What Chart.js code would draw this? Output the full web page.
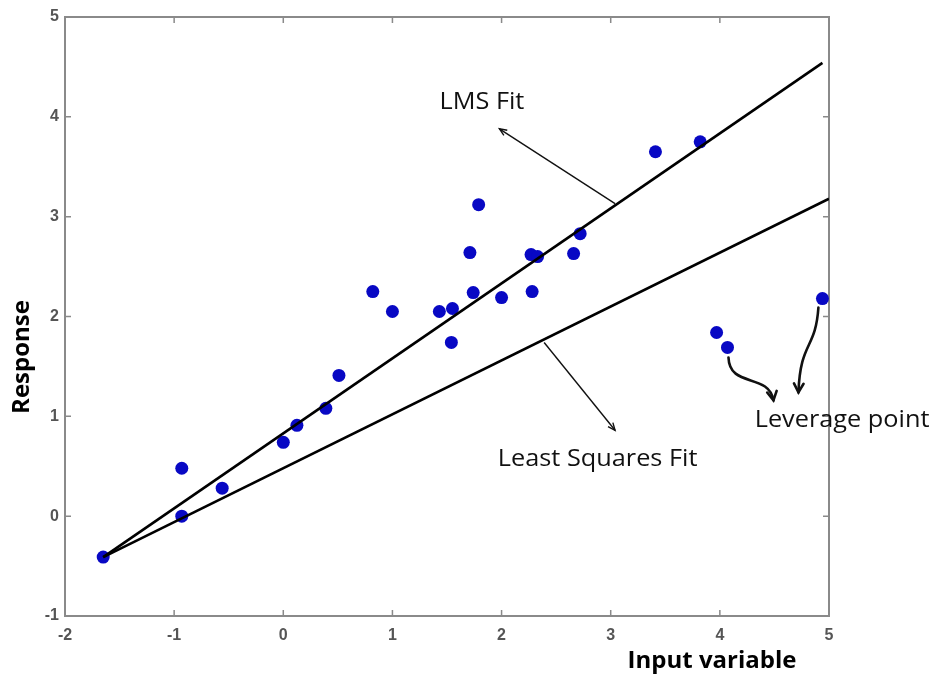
<!DOCTYPE html>
<html>
<head>
<meta charset="utf-8">
<script src="https://cdn.jsdelivr.net/npm/chart.js@4.4.1/dist/chart.umd.min.js"></script>
<style>
  html, body { margin: 0; padding: 0; background: #ffffff; }
  #wrap { width: 935px; height: 679px; position: relative; }
</style>
</head>
<body>
<div id="wrap"><canvas id="c" width="935" height="679"></canvas></div>
<script>
// ---- data ----
const inputValues    = [-1.65, -0.93, -0.93, -0.56, 0.00, 0.125, 0.39, 0.51, 0.82, 1.00, 1.43, 1.55, 1.54, 1.71, 1.74, 1.79, 2.00, 2.27, 2.28, 2.33, 2.66, 2.72, 3.41, 3.82, 3.97, 4.07, 4.94];
const responseValues = [-0.41, 0.48, 0.00, 0.28, 0.74, 0.91, 1.08, 1.41, 2.25, 2.05, 2.05, 2.08, 1.74, 2.64, 2.24, 3.12, 2.19, 2.62, 2.25, 2.60, 2.63, 2.83, 3.65, 3.75, 1.84, 1.69, 2.18];

const lmsFitX = [-1.65, 4.94];
const lmsFitY = [-0.41, 4.54];
const lsFitX  = [-1.65, 5.00];
const lsFitY  = [-0.41, 3.18];

const xTickValues = [-2, -1, 0, 1, 2, 3, 4, 5];
const yTickValues = [-1, 0, 1, 2, 3, 4, 5];

const xTitle = "Input variable";
const yTitle = "Response";

// annotation labels (in data units)
const noteLabels = ["LMS Fit", "Least Squares Fit", "Leverage point"];
const noteX      = [1.82, 2.88, 5.12];
const noteY      = [4.14, 0.57, 0.96];

// straight arrows: [fromX, fromY, toX, toY]
const arrowLMS = [3.04, 3.13, 1.98, 3.88];
const arrowLS  = [2.39, 1.74, 3.04, 0.86];

// curved arrows (cubic): P0, C1, C2, P3
const curveA = [4.079, 1.59, 4.088, 1.28, 4.446, 1.44, 4.491, 1.16];
const curveB = [4.903, 2.09, 4.876, 1.66, 4.738, 1.76, 4.720, 1.24];

const toPoints = (xs, ys) => xs.map((x, i) => ({ x: x, y: ys[i] }));

const decorPlugin = {
  id: 'decor',
  beforeDatasetsDraw(chart) {
    const { ctx, chartArea: a, scales } = chart;
    ctx.save();
    ctx.strokeStyle = '#8a8a8a';
    ctx.lineWidth = 1.5;
    // inward ticks on all four sides
    const tl = 6;
    xTickValues.forEach(v => {
      const px = scales.x.getPixelForValue(v);
      ctx.beginPath();
      ctx.moveTo(px, a.bottom); ctx.lineTo(px, a.bottom - tl);
      ctx.moveTo(px, a.top); ctx.lineTo(px, a.top + tl);
      ctx.stroke();
    });
    yTickValues.forEach(v => {
      const py = scales.y.getPixelForValue(v);
      ctx.beginPath();
      ctx.moveTo(a.left, py); ctx.lineTo(a.left + tl, py);
      ctx.moveTo(a.right, py); ctx.lineTo(a.right - tl, py);
      ctx.stroke();
    });
    ctx.lineWidth = 2;
    ctx.strokeRect(a.left, a.top, a.right - a.left, a.bottom - a.top);
    ctx.restore();
  },
  afterDatasetsDraw(chart) {
    const { ctx, chartArea: a, scales } = chart;
    const X = v => scales.x.getPixelForValue(v);
    const Y = v => scales.y.getPixelForValue(v);
    ctx.save();

    // labels (slightly wide lettering as in the original)
    ctx.fillStyle = '#111';
    ctx.font = '23px "Open Sans", sans-serif';
    ctx.textAlign = 'center';
    ctx.textBaseline = 'middle';
    noteLabels.forEach((t, i) => {
      ctx.save();
      ctx.translate(X(noteX[i]), Y(noteY[i]));
      ctx.scale(1.1, 1);
      ctx.fillText(t, 0, 0);
      ctx.restore();
    });

    // straight arrows
    const straight = (arr) => {
      const x1 = X(arr[0]), y1 = Y(arr[1]), x2 = X(arr[2]), y2 = Y(arr[3]);
      ctx.strokeStyle = '#111';
      ctx.lineWidth = 1.4;
      ctx.beginPath(); ctx.moveTo(x1, y1); ctx.lineTo(x2, y2); ctx.stroke();
      const ang = Math.atan2(y2 - y1, x2 - x1);
      const h = 8;
      ctx.beginPath();
      ctx.moveTo(x2 - h * Math.cos(ang - 0.4), y2 - h * Math.sin(ang - 0.4));
      ctx.lineTo(x2, y2);
      ctx.lineTo(x2 - h * Math.cos(ang + 0.4), y2 - h * Math.sin(ang + 0.4));
      ctx.stroke();
    };
    straight(arrowLMS);
    straight(arrowLS);

    // curved arrows
    const curved = (c) => {
      const p = [X(c[0]), Y(c[1]), X(c[2]), Y(c[3]), X(c[4]), Y(c[5]), X(c[6]), Y(c[7])];
      ctx.strokeStyle = '#111';
      ctx.lineWidth = 2.6;
      ctx.lineCap = 'round';
      ctx.beginPath();
      ctx.moveTo(p[0], p[1]);
      ctx.bezierCurveTo(p[2], p[3], p[4], p[5], p[6], p[7]);
      ctx.stroke();
      const ang = Math.atan2(p[7] - p[5], p[6] - p[4]);
      const h = 10;
      ctx.beginPath();
      ctx.moveTo(p[6] - h * Math.cos(ang - 0.5), p[7] - h * Math.sin(ang - 0.5));
      ctx.lineTo(p[6], p[7]);
      ctx.lineTo(p[6] - h * Math.cos(ang + 0.5), p[7] - h * Math.sin(ang + 0.5));
      ctx.stroke();
    };
    curved(curveA);
    curved(curveB);

    // axis titles
    ctx.fillStyle = '#000';
    ctx.font = 'bold 24px "Open Sans", sans-serif';
    ctx.textAlign = 'center';
    ctx.textBaseline = 'middle';
    ctx.fillText(xTitle, 712, 661);
    ctx.save();
    ctx.translate(22, 357);
    ctx.rotate(-Math.PI / 2);
    ctx.fillText(yTitle, 0, 0);
    ctx.restore();

    ctx.restore();
  }
};

new Chart(document.getElementById('c'), {
  type: 'scatter',
  data: {
    datasets: [
      {
        type: 'line',
        data: toPoints(lmsFitX, lmsFitY),
        borderColor: '#000',
        borderWidth: 2.6,
        pointRadius: 0,
        fill: false,
        order: 0
      },
      {
        type: 'line',
        data: toPoints(lsFitX, lsFitY),
        borderColor: '#000',
        borderWidth: 2.6,
        pointRadius: 0,
        fill: false,
        order: 0
      },
      {
        data: toPoints(inputValues, responseValues),
        backgroundColor: '#0808c4',
        borderColor: '#0808c4',
        borderWidth: 0,
        pointRadius: 6.5,
        order: 1
      }
    ]
  },
  options: {
    responsive: false,
    animation: false,
    layout: { padding: { top: 17, right: 106, left: 0, bottom: 0 } },
    plugins: { legend: { display: false }, tooltip: { enabled: false } },
    scales: {
      x: {
        type: 'linear',
        min: -2, max: 5,
        grid: { display: false, drawTicks: false },
        border: { display: false },
        afterBuildTicks: s => { s.ticks = xTickValues.map(v => ({ value: v })); },
        afterFit: s => { s.height = 63; },
        ticks: { padding: 10, color: '#555', font: { family: '"Liberation Sans", Arial, sans-serif', size: 16, weight: 'bold' } }
      },
      y: {
        type: 'linear',
        min: -1, max: 5,
        grid: { display: false, drawTicks: false },
        border: { display: false },
        afterBuildTicks: s => { s.ticks = yTickValues.map(v => ({ value: v })); },
        afterFit: s => { s.width = 65; },
        ticks: { padding: 6, color: '#555', font: { family: '"Liberation Sans", Arial, sans-serif', size: 16, weight: 'bold' } }
      }
    }
  },
  plugins: [decorPlugin]
});
</script>
</body>
</html>
